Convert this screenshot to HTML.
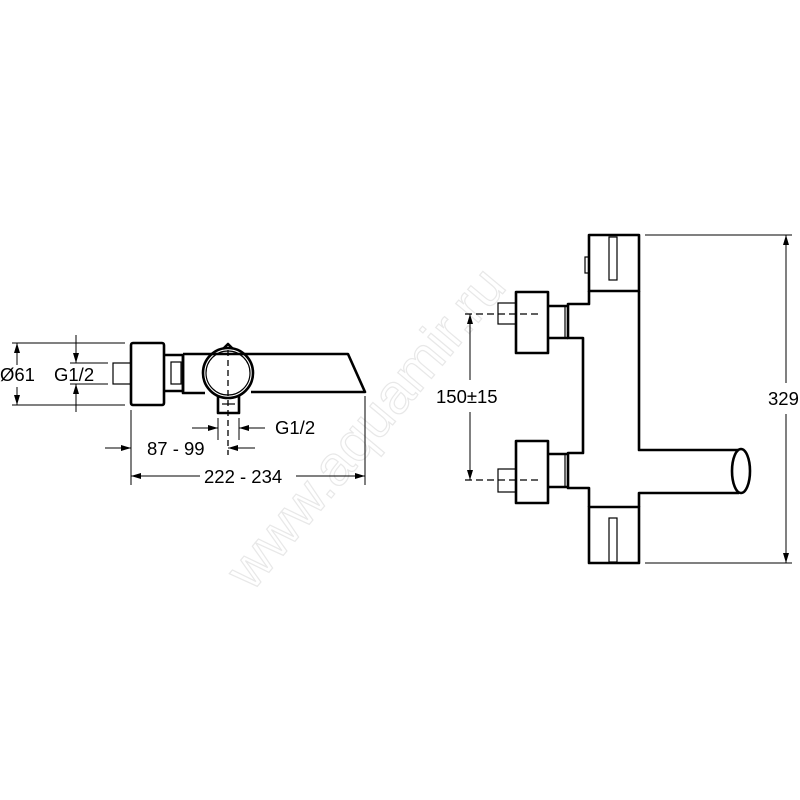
<!DOCTYPE html>
<html><head><style>html,body{margin:0;padding:0;background:#fff}svg{display:block}</style></head>
<body>
<svg width="800" height="800" viewBox="0 0 800 800" xmlns="http://www.w3.org/2000/svg" font-family="Liberation Sans, sans-serif">
<defs>
<marker id="a" viewBox="0 0 10 6" refX="10" refY="3" markerWidth="10" markerHeight="6" orient="auto-start-reverse" markerUnits="userSpaceOnUse"><path d="M0,0 L10,3 L0,6z" fill="#000"/></marker>
</defs>
<text x="380" y="440" font-size="56" fill="none" stroke="#e8e8e8" stroke-width="1.2" transform="rotate(-50 380 440)" text-anchor="middle">www.aquamir.ru</text>
<g fill="none" stroke="#000">
<g stroke-width="2.6" stroke-linejoin="round">
<rect x="131" y="343" width="33" height="62" rx="2"/>
<path d="M164 355 H183 V391 H164"/>
<path d="M183 354 H348 L365 392 H251"/>
<path d="M183 354 V393 H205"/>
<circle cx="228" cy="373" r="25"/>
<path d="M223 349 L228 344 L233 349"/>
<path d="M218 395 V413 H239 V395"/>
</g>
<g stroke-width="1.2">
<rect x="113" y="363" width="18" height="21"/>
<rect x="171" y="362" width="10" height="22"/>
<circle cx="228" cy="373" r="22"/>
<line x1="222" y1="404" x2="235" y2="404"/>
</g>
<line x1="228" y1="350" x2="228" y2="455" stroke-width="1.3" stroke-dasharray="6,4"/>
<g stroke-width="1">
<line x1="12" y1="343" x2="125" y2="343"/><line x1="12" y1="405" x2="125" y2="405"/>
<line x1="17" y1="343" x2="17" y2="365" marker-start="url(#a)"/><line x1="17" y1="387" x2="17" y2="405" marker-end="url(#a)"/>
<line x1="70" y1="363" x2="108" y2="363"/><line x1="70" y1="384" x2="108" y2="384"/>
<line x1="76" y1="335" x2="76" y2="363" marker-end="url(#a)"/><line x1="76" y1="412" x2="76" y2="384" marker-end="url(#a)"/>
<line x1="218" y1="418" x2="218" y2="440"/><line x1="239" y1="418" x2="239" y2="440"/>
<line x1="192" y1="428" x2="218" y2="428" marker-end="url(#a)"/><line x1="265" y1="428" x2="239" y2="428" marker-end="url(#a)"/>
<line x1="131" y1="410" x2="131" y2="485"/><line x1="365" y1="396" x2="365" y2="485"/>
<line x1="105" y1="448" x2="131" y2="448" marker-end="url(#a)"/><line x1="255" y1="448" x2="228" y2="448" marker-end="url(#a)"/>
<line x1="200" y1="476" x2="131" y2="476" marker-end="url(#a)"/><line x1="296" y1="476" x2="365" y2="476" marker-end="url(#a)"/>
</g>
<g stroke-width="2.6" stroke-linejoin="round">
<rect x="589" y="235" width="50" height="56"/>
<rect x="589" y="507" width="50" height="56"/>
<path d="M589 291 V304 H568 V338 H583 V453 H568 V488 H589 V507"/>
<path d="M639 291 V450 H739"/><path d="M739 493 H639 V507"/>
<ellipse cx="741" cy="471" rx="9" ry="22"/>
<path d="M548 306 H568"/><path d="M548 338 H568"/>
<path d="M548 454 H568"/><path d="M548 487 H568"/>
<rect x="516" y="292" width="32" height="61"/>
<rect x="516" y="441" width="32" height="62"/>
</g>
<g stroke-width="1.2">
<rect x="609" y="237" width="8" height="43"/>
<rect x="609" y="518" width="8" height="44"/>
<rect x="585" y="257" width="4" height="16"/>
<rect x="498" y="303" width="18" height="21"/>
<rect x="498" y="469" width="18" height="23"/>
<line x1="565" y1="306" x2="565" y2="338"/><line x1="565" y1="454" x2="565" y2="487"/>
<line x1="548" y1="306" x2="548" y2="338"/><line x1="548" y1="454" x2="548" y2="487"/>
</g>
<g stroke-width="1.2" stroke-dasharray="7,4">
<line x1="465" y1="314" x2="540" y2="314"/><line x1="465" y1="480" x2="540" y2="480"/>
</g>
<g stroke-width="1">
<line x1="470" y1="314" x2="470" y2="380" marker-start="url(#a)"/><line x1="470" y1="412" x2="470" y2="480" marker-end="url(#a)"/>
<line x1="645" y1="235" x2="792" y2="235"/><line x1="645" y1="563" x2="792" y2="563"/>
<line x1="786" y1="235" x2="786" y2="383" marker-start="url(#a)"/><line x1="786" y1="414" x2="786" y2="563" marker-end="url(#a)"/>
</g>
</g>
<g font-size="18.5" fill="#000">
<text x="0" y="381">Ø61</text>
<text x="54" y="381">G1/2</text>
<text x="275" y="434">G1/2</text>
<text x="147" y="455">87 - 99</text>
<text x="204" y="483">222 - 234</text>
<text x="436" y="403">150±15</text>
<text x="768" y="405">329</text>
</g>
</svg>
</body></html>
